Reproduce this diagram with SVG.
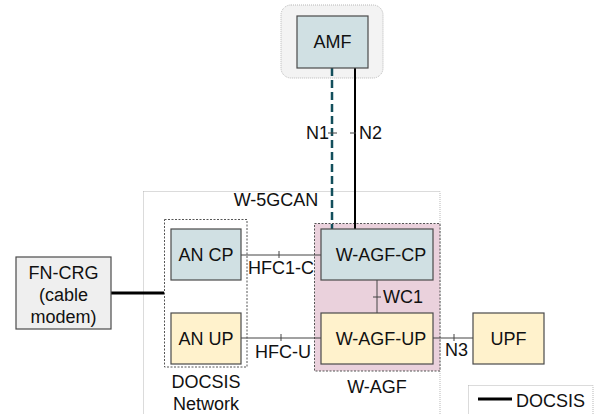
<svg xmlns="http://www.w3.org/2000/svg" width="596" height="414" viewBox="0 0 596 414">
  <style>
    text { font-family: "Liberation Sans", Arial, sans-serif; font-size: 18px; fill: #111; }
    .mid { text-anchor: middle; }
    .end { text-anchor: end; }
    .zone { fill: none; stroke: #b7b7b7; stroke-width: 1; stroke-dasharray: 1 1; }
    .box { stroke: #4a4a4a; stroke-width: 1.2; }
    .cp { fill: #d0e0e3; }
    .up { fill: #fff2cc; }
    .link { stroke: #444; stroke-width: 1; fill: none; }
    .tick { stroke: #444; stroke-width: 1; }
    .docsis { stroke: #000; stroke-width: 3; }
  </style>
  <rect width="596" height="414" fill="#fff"/>

  <!-- grouping zones -->
  <g id="zones">
    <rect x="281" y="5" width="102" height="73" rx="10" fill="#f3f3f3" stroke="#b7b7b7" stroke-dasharray="1 1"/>
    <rect class="zone" x="143.5" y="191.5" width="296.5" height="240"/>
    <text class="mid" x="276" y="206">W-5GCAN</text>
    <rect x="314.5" y="223.5" width="125.5" height="147.5" fill="#ead1dc" stroke="#555" stroke-dasharray="2 1.5"/>
    <rect x="164.5" y="219.5" width="82.5" height="147.5" fill="none" stroke="#555" stroke-dasharray="2 1.5"/>
    <text class="mid" x="377" y="393">W-AGF</text>
    <text class="mid" x="206" y="388">DOCSIS</text>
    <text class="mid" x="206" y="410">Network</text>
  </g>

  <!-- connectors -->
  <g id="connectors">
    <line x1="332" y1="68" x2="332" y2="229" stroke="#134f5c" stroke-width="2.5" stroke-dasharray="8 4"/>
    <line x1="355" y1="68" x2="355" y2="229" stroke="#000" stroke-width="2"/>
    <line class="tick" x1="328" y1="133" x2="337" y2="133"/>
    <text class="end" x="329" y="139">N1</text>
    <line class="tick" x1="350" y1="133" x2="356" y2="133"/>
    <text x="359" y="139">N2</text>

    <line class="docsis" x1="111" y1="293" x2="164" y2="293"/>

    <line class="link" x1="241" y1="255" x2="321" y2="255"/>
    <line class="tick" x1="279" y1="251" x2="279" y2="258"/>
    <text x="248" y="274">HFC1-C</text>

    <line class="link" x1="241" y1="338" x2="321" y2="338"/>
    <line class="tick" x1="281" y1="334" x2="281" y2="341"/>
    <text x="255" y="358">HFC-U</text>

    <line class="link" x1="377" y1="280" x2="377" y2="313"/>
    <line class="tick" x1="373" y1="297" x2="381" y2="297"/>
    <text x="383" y="303">WC1</text>

    <line class="link" x1="433" y1="338" x2="473" y2="338"/>
    <line class="tick" x1="454" y1="334" x2="454" y2="341"/>
    <text x="445" y="356">N3</text>
  </g>

  <!-- nodes -->
  <g id="amf">
    <rect class="box cp" x="297" y="16" width="71" height="52"/>
    <text class="mid" x="332.5" y="48">AMF</text>
  </g>
  <g id="fn-crg">
    <rect class="box" fill="#efefef" x="16" y="257" width="95" height="72"/>
    <text class="mid" x="63.5" y="279">FN-CRG</text>
    <text class="mid" x="63.5" y="301">(cable</text>
    <text class="mid" x="63.5" y="323">modem)</text>
  </g>
  <g id="an-cp">
    <rect class="box cp" x="171" y="229" width="70" height="51"/>
    <text class="mid" x="206" y="261">AN CP</text>
  </g>
  <g id="an-up">
    <rect class="box up" x="171" y="313" width="70" height="51"/>
    <text class="mid" x="206" y="345">AN UP</text>
  </g>
  <g id="w-agf-cp">
    <rect class="box cp" x="321" y="229" width="112" height="51"/>
    <text class="mid" x="381" y="261">W-AGF-CP</text>
  </g>
  <g id="w-agf-up">
    <rect class="box up" x="321" y="313" width="112" height="51"/>
    <text class="mid" x="381" y="345">W-AGF-UP</text>
  </g>
  <g id="upf">
    <rect class="box up" x="473" y="313" width="71" height="51"/>
    <text class="mid" x="508.5" y="345">UPF</text>
  </g>

  <!-- legend -->
  <g id="legend">
    <rect class="zone" x="468.5" y="385.5" width="124.5" height="40"/>
    <line class="docsis" x1="478" y1="399" x2="512" y2="399"/>
    <text x="516" y="407">DOCSIS</text>
  </g>
</svg>
